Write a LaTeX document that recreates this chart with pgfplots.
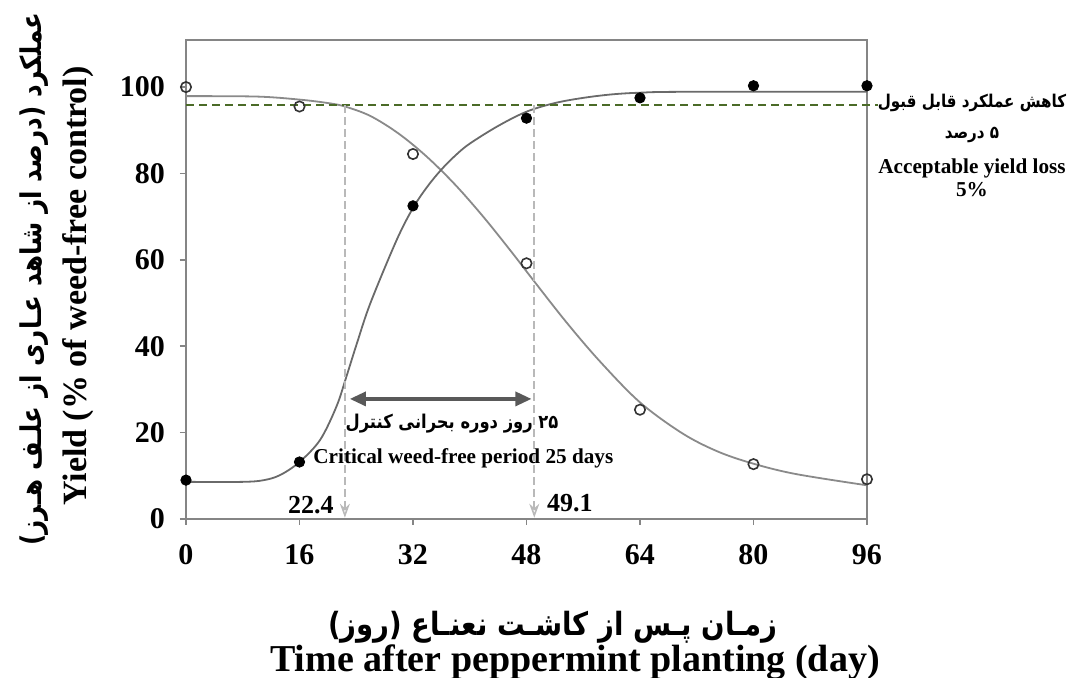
\documentclass[border=0pt]{standalone}
\usepackage{fontspec}
\setmainfont{Liberation Serif}
\newfontfamily\fa[Script=Arabic,FakeStretch=0.86]{DejaVu Sans}
\TeXXeTstate=1
\usepackage{pgfplots}
\pgfplotsset{compat=1.18}
\usetikzlibrary{arrows.meta}
\definecolor{dashgreen}{HTML}{4B6B28}
\definecolor{curveA}{HTML}{8A8A8A}
\definecolor{curveB}{HTML}{6A6A6A}
\definecolor{frame}{HTML}{858585}
\begin{document}
\begin{tikzpicture}
\useasboundingbox (-93pt,-79.5pt) rectangle (441.5pt,259.5pt);
\begin{axis}[at={(0,0)}, anchor=south west, scale only axis,
 width=340.5pt, height=239.5pt,
 xmin=0, xmax=96, ymin=0, ymax=110.9,
 xtick={0,16,32,48,64,80,96}, ytick={0,20,40,60,80,100},
 axis line style={draw=frame, line width=1pt},
 tick align=outside, xtick pos=bottom, ytick pos=left, major tick length=3pt,
 tick style={draw=frame, line width=0.8pt},
 ticklabel style={font=\fontsize{15}{17}\selectfont\bfseries},
 /pgf/number format/assume math mode=true,
 xticklabel style={text height=10pt, text depth=0pt, yshift=-6pt},
 yticklabel style={xshift=-4pt},
 clip=false]
% fitted curves
\addplot[curveA, line width=0.9pt, smooth, tension=0.55] coordinates {
(0,97.9) (10,97.8) (16,97.1) (20,96.3) (22.4,95.5) (26,93.3) (30,89.2) (34,83.8)
(38,77.3) (42,69.8) (46,61.6) (49,55.2) (53.7,45.4) (58.4,36.4) (64,27)
(70,19.8) (75,15.6) (80,12.8) (86,10.4) (96,7.8)};
\addplot[curveB, line width=0.9pt, smooth, tension=0.55] coordinates {
(0,8.6) (8,8.6) (11,9.0) (13.3,10.2) (16,13.2) (18.9,18.3) (21.2,26) (22.6,32.9)
(24.1,40.7) (26,50) (29.7,64.6) (32,72) (34,76.9) (36,80.9) (38,84.2) (40,86.9)
(44,91) (48,94.3) (52,96.3) (56,97.5) (60,98.3) (64,98.7) (70,98.9) (96,98.9)};
% acceptable loss line
\addplot[dashgreen, line width=0.8pt, dash pattern=on 4pt off 2.5pt] coordinates {(0,95.8) (97.5,95.8)};
% critical period limits
\addplot[gray!55, line width=0.8pt, dash pattern=on 4pt off 2pt, -{Stealth[open,length=7pt,width=5pt]}] coordinates {(22.4,95.8) (22.4,0.3)};
\addplot[gray!55, line width=0.8pt, dash pattern=on 4pt off 2pt, -{Stealth[open,length=7pt,width=5pt]}] coordinates {(49.1,95.8) (49.1,0.3)};
% double arrow
\addplot[gray!70!black, line width=1.6pt, {Triangle[length=8pt,width=7pt]}-{Triangle[length=8pt,width=7pt]}] coordinates {(23.1,27.8) (48.7,27.8)};
% observed points
\addplot[only marks, mark=o, mark size=2.6pt, mark options={draw=gray!40!black, fill=white, line width=0.8pt}] coordinates {
(0,100) (16,95.5) (32,84.5) (48,59.2) (64,25.3) (80,12.7) (96,9.2)};
\addplot[only marks, mark=*, mark size=2.6pt, mark options={draw=black, fill=black}] coordinates {
(0,9) (16,13.2) (32,72.5) (48,92.8) (64,97.5) (80,100.3) (96,100.3)};
\node[font=\fa\bfseries\fontsize{9.5}{11}\selectfont] at (axis cs:37.5,22.2) {\beginR ۲۵ روز دوره بحرانی کنترل\endR};
\node[font=\bfseries\fontsize{10.6}{12}\selectfont] at (axis cs:39.1,14.1) {Critical weed-free period 25 days};
\node[font=\bfseries\fontsize{13}{15}\selectfont] at (axis cs:17.6,3.3) {22.4};
\node[font=\bfseries\fontsize{13}{15}\selectfont] at (axis cs:54.1,3.7) {49.1};
\end{axis}
% right annotation
\node[font=\fa\bfseries\fontsize{8.8}{10}\selectfont] at (393pt,208pt) {\beginR کاهش عملکرد قابل قبول\endR};
\node[font=\fa\bfseries\fontsize{8.8}{10}\selectfont] at (393pt,192pt) {\beginR ۵ درصد\endR};
\node[font=\bfseries\fontsize{10.6}{12}\selectfont] at (393pt,175.5pt) {Acceptable yield loss};
\node[font=\bfseries\fontsize{10.6}{12}\selectfont] at (393pt,164.5pt) {5\%};
% y label
\node[rotate=90, font=\fa\bfseries\fontsize{14.3}{16}\selectfont] at (-76pt,120pt) {\beginR عملکرد (درصد از شاهد عـاری از علـف هـرز)\endR};
\node[rotate=90, font=\bfseries\fontsize{17}{19}\selectfont] at (-54pt,116.5pt) {Yield (\% of weed-free control)};
% x label
\node[font=\fa\bfseries\fontsize{16}{18}\selectfont] at (183.5pt,-54pt) {\beginR زمـان پـس از کاشـت نعنـاع (روز)\endR};
\node[font=\bfseries\fontsize{19}{21}\selectfont] at (194.5pt,-71.5pt) {Time after peppermint planting (day)};
\end{tikzpicture}
\end{document}
